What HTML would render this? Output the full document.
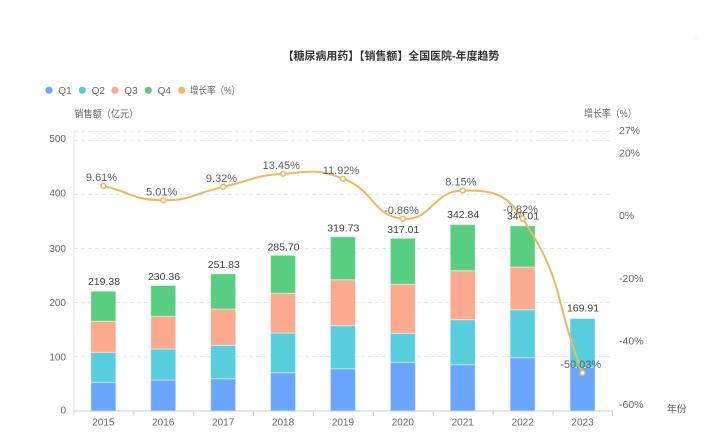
<!DOCTYPE html>
<html><head><meta charset="utf-8"><style>
html,body{margin:0;padding:0;background:#fff;}
svg{display:block;}
text{font-family:"Liberation Sans","Noto Sans CJK SC",sans-serif;}
</style></head><body>
<svg width="704" height="433" viewBox="0 0 704 433" xmlns="http://www.w3.org/2000/svg">
<rect width="704" height="433" fill="#fff"/>
<rect x="695.5" y="38.5" width="1" height="1" fill="#ccc"/>
<!-- title -->
<text x="282.7" y="59.5" font-size="11" font-weight="bold" fill="#333" textLength="216.6" lengthAdjust="spacingAndGlyphs">【糖尿病用药】【销售额】全国医院-年度趋势</text>
<!-- legend -->
<g font-size="10" fill="#666">
<circle cx="49" cy="90.3" r="3.6" fill="#69a5ff"/><text x="58.3" y="94">Q1</text>
<circle cx="82.3" cy="90.3" r="3.6" fill="#58cbdd"/><text x="91.6" y="94">Q2</text>
<circle cx="115" cy="90.3" r="3.6" fill="#f9a98f"/><text x="124.3" y="94">Q3</text>
<circle cx="148.3" cy="90.3" r="3.6" fill="#5ccb80"/><text x="157.6" y="94">Q4</text>
<circle cx="181.7" cy="90.3" r="3.6" fill="#f5b65c"/><text x="190" y="94" textLength="50" lengthAdjust="spacingAndGlyphs">增长率（%）</text>
</g>
<!-- axis names -->
<text x="74.3" y="117.5" font-size="10" fill="#666" textLength="64" lengthAdjust="spacingAndGlyphs">销售额（亿元）</text>
<text x="584" y="117" font-size="10" fill="#666" textLength="52.7" lengthAdjust="spacingAndGlyphs">增长率（%）</text>
<text x="666.7" y="412.5" font-size="10" fill="#666">年份</text>
<!-- grid -->
<g stroke="#e3e7ee" stroke-width="1" stroke-dasharray="4 3">
<line x1="74" y1="131.5" x2="612.5" y2="131.5"/>
<line x1="74" y1="140.5" x2="612.5" y2="140.5"/>
<line x1="74" y1="194.5" x2="612.5" y2="194.5"/>
<line x1="74" y1="248.5" x2="612.5" y2="248.5"/>
<line x1="74" y1="302.5" x2="612.5" y2="302.5"/>
<line x1="74" y1="356.5" x2="612.5" y2="356.5"/>
</g>
<line x1="74" y1="131" x2="74" y2="411" stroke="#e0e6ee" stroke-width="1"/>
<!-- left labels -->
<g font-size="10" fill="#666" text-anchor="end">
<text x="66" y="141.9">500</text>
<text x="66" y="196.5">400</text>
<text x="66" y="251.9">300</text>
<text x="66" y="305.9">200</text>
<text x="66" y="360.3">100</text>
<text x="66" y="413.6">0</text>
</g>
<!-- right labels -->
<g font-size="10.5" fill="#666">
<text x="619" y="133.8">27%</text>
<text x="619" y="156.5">20%</text>
<text x="619" y="218.8">0%</text>
<text x="619" y="282.1">-20%</text>
<text x="619" y="344.5">-40%</text>
<text x="619" y="407.8">-60%</text>
</g>
<!-- bars -->
<g stroke="rgba(255,255,255,0.45)" stroke-width="1">
<!-- 2015 -->
<rect x="90.85" y="382.3" width="25" height="28.7" fill="#6aa6ff"/>
<rect x="90.85" y="352.3" width="25" height="30" fill="#56cedd"/>
<rect x="90.85" y="321.3" width="25" height="31" fill="#fbaa8e"/>
<rect x="90.85" y="291.2" width="25" height="30.1" fill="#58cf80"/>
<!-- 2016 -->
<rect x="150.75" y="380" width="25" height="31" fill="#6aa6ff"/>
<rect x="150.75" y="349" width="25" height="31" fill="#56cedd"/>
<rect x="150.75" y="316.3" width="25" height="32.7" fill="#fbaa8e"/>
<rect x="150.75" y="285.5" width="25" height="30.8" fill="#58cf80"/>
<!-- 2017 -->
<rect x="210.65" y="378.7" width="25" height="32.3" fill="#6aa6ff"/>
<rect x="210.65" y="345.3" width="25" height="33.4" fill="#56cedd"/>
<rect x="210.65" y="309" width="25" height="36.3" fill="#fbaa8e"/>
<rect x="210.65" y="273.8" width="25" height="35.2" fill="#58cf80"/>
<!-- 2018 -->
<rect x="270.55" y="372.7" width="25" height="38.3" fill="#6aa6ff"/>
<rect x="270.55" y="333" width="25" height="39.7" fill="#56cedd"/>
<rect x="270.55" y="293.3" width="25" height="39.7" fill="#fbaa8e"/>
<rect x="270.55" y="255.3" width="25" height="38" fill="#58cf80"/>
<!-- 2019 -->
<rect x="330.45" y="368.7" width="25" height="42.3" fill="#6aa6ff"/>
<rect x="330.45" y="325.7" width="25" height="43" fill="#56cedd"/>
<rect x="330.45" y="279.7" width="25" height="46" fill="#fbaa8e"/>
<rect x="330.45" y="236.8" width="25" height="42.9" fill="#58cf80"/>
<!-- 2020 -->
<rect x="390.35" y="362.3" width="25" height="48.7" fill="#6aa6ff"/>
<rect x="390.35" y="333.3" width="25" height="29" fill="#56cedd"/>
<rect x="390.35" y="284.3" width="25" height="49" fill="#fbaa8e"/>
<rect x="390.35" y="238.3" width="25" height="46" fill="#58cf80"/>
<!-- 2021 -->
<rect x="450.25" y="364.7" width="25" height="46.3" fill="#6aa6ff"/>
<rect x="450.25" y="319.7" width="25" height="45" fill="#56cedd"/>
<rect x="450.25" y="270.7" width="25" height="49" fill="#fbaa8e"/>
<rect x="450.25" y="224.6" width="25" height="46.1" fill="#58cf80"/>
<!-- 2022 -->
<rect x="510.15" y="357.7" width="25" height="53.3" fill="#6aa6ff"/>
<rect x="510.15" y="309.7" width="25" height="48" fill="#56cedd"/>
<rect x="510.15" y="267" width="25" height="42.7" fill="#fbaa8e"/>
<rect x="510.15" y="225.8" width="25" height="41.2" fill="#58cf80"/>
<!-- 2023 -->
<rect x="570.05" y="367.3" width="25" height="43.7" fill="#6aa6ff"/>
<rect x="570.05" y="318.5" width="25" height="48.8" fill="#56cedd"/>
</g>
<!-- x axis -->
<line x1="73.4" y1="411" x2="612.5" y2="411" stroke="#c9ced6" stroke-width="1"/>
<g stroke="#c9ced6" stroke-width="1">
<line x1="73.9" y1="411" x2="73.9" y2="415.5"/>
<line x1="133.8" y1="411" x2="133.8" y2="415.5"/>
<line x1="193.7" y1="411" x2="193.7" y2="415.5"/>
<line x1="253.6" y1="411" x2="253.6" y2="415.5"/>
<line x1="313.5" y1="411" x2="313.5" y2="415.5"/>
<line x1="373.4" y1="411" x2="373.4" y2="415.5"/>
<line x1="433.3" y1="411" x2="433.3" y2="415.5"/>
<line x1="493.2" y1="411" x2="493.2" y2="415.5"/>
<line x1="553.1" y1="411" x2="553.1" y2="415.5"/>
<line x1="612.5" y1="411" x2="612.5" y2="415.5"/>
</g>
<g font-size="10" fill="#666" text-anchor="middle">
<text x="103.35" y="425.3">2015</text>
<text x="163.25" y="425.3">2016</text>
<text x="223.15" y="425.3">2017</text>
<text x="283.05" y="425.3">2018</text>
<text x="342.95" y="425.3">2019</text>
<text x="402.85" y="425.3">2020</text>
<text x="462.75" y="425.3">2021</text>
<text x="522.65" y="425.3">2022</text>
<text x="582.55" y="425.3">2023</text>
</g>
<!-- value labels -->
<g font-size="10.5" fill="#3f3f3f" text-anchor="middle">
<text x="104" y="284.8">219.38</text>
<text x="164" y="279.8">230.36</text>
<text x="223.8" y="267.8">251.83</text>
<text x="283.5" y="250.5">285.70</text>
<text x="343.3" y="231.5">319.73</text>
<text x="403.3" y="232.8">317.01</text>
<text x="463.2" y="217.8">342.84</text>
<text x="523" y="219.5">340.01</text>
<text x="583" y="311.5">169.91</text>
</g>
<!-- growth line -->
<path d="M103.35,185.9 C133.25,193.1 133.25,200.08 163.25,200.3 C193.15,200.52 193.18,193.43 223.15,186.8 C253.08,180.18 252.8,175.87 283.05,173.8 C312.7,171.77 315.72,168.39 342.95,178.6 C375.62,190.84 371.63,215.6 402.85,218.7 C431.53,221.55 432.79,190.53 462.75,190.5 C492.69,190.47 505.54,192.56 522.65,218.6 C565.44,283.71 552.6,295.7 582.55,372.8" fill="none" stroke="#f0b75c" stroke-width="2"/>
<g fill="#fff" stroke="#f0b75c" stroke-width="1.5">
<circle cx="103.35" cy="185.9" r="2.4"/>
<circle cx="163.25" cy="200.3" r="2.4"/>
<circle cx="223.15" cy="186.8" r="2.4"/>
<circle cx="283.05" cy="173.8" r="2.4"/>
<circle cx="342.95" cy="178.6" r="2.4"/>
<circle cx="402.85" cy="218.7" r="2.4"/>
<circle cx="462.75" cy="190.5" r="2.4"/>
<circle cx="522.65" cy="218.6" r="2.4"/>
<circle cx="582.55" cy="372.8" r="2.4"/>
</g>
<g font-size="11" fill="#5f5f5f" text-anchor="middle">
<text x="101.5" y="181.2">9.61%</text>
<text x="161.7" y="195.6">5.01%</text>
<text x="221.5" y="182.2">9.32%</text>
<text x="281.3" y="168.9">13.45%</text>
<text x="341" y="173.9">11.92%</text>
<text x="401.5" y="213.9">-0.86%</text>
<text x="460.8" y="185.6">8.15%</text>
<text x="520.5" y="213.2">-0.82%</text>
<text x="580.7" y="368.2">-50.03%</text>
</g>
</svg>
</body></html>
